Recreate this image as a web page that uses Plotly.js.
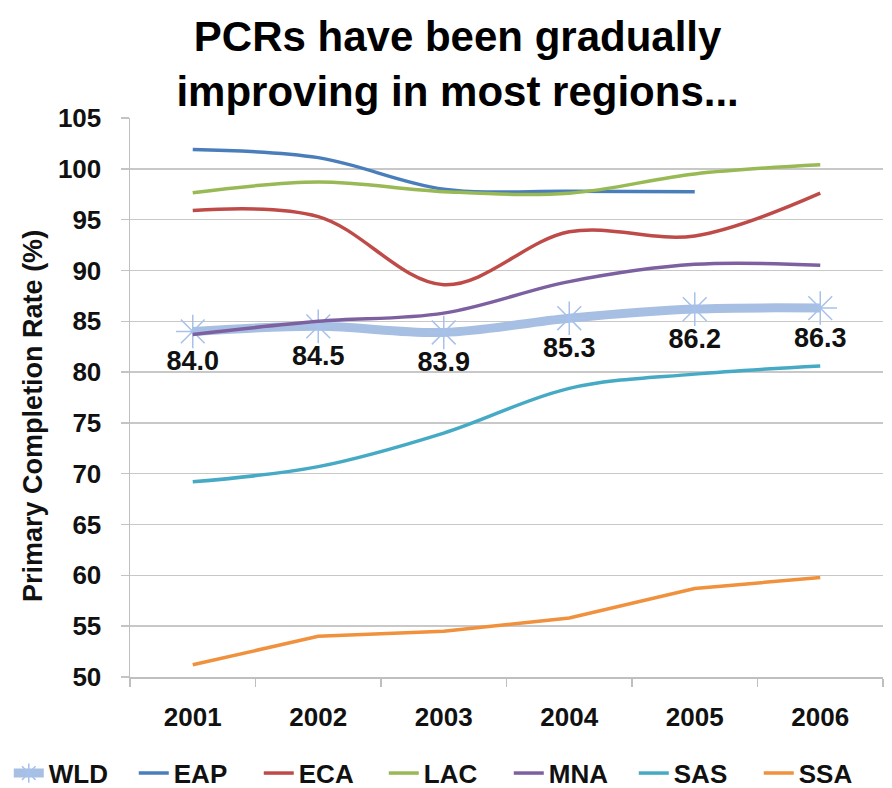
<!DOCTYPE html>
<html>
<head>
<meta charset="utf-8">
<script src="https://cdn.plot.ly/plotly-3.0.1.min.js"></script>
<style>html,body{margin:0;padding:0;background:#fff;}#chart{width:892px;height:788px;}</style>
</head>
<body>
<div id="chart"></div>
<script>
const years = ["2001", "2002", "2003", "2004", "2005", "2006"];
const WLD = [84.0, 84.5, 83.9, 85.3, 86.2, 86.3];
const EAP = [101.9, 101.1, 98.0, 97.8, 97.75, null];
const ECA = [95.9, 95.3, 88.6, 93.8, 93.4, 97.6];
const LAC = [97.65, 98.7, 97.75, 97.6, 99.5, 100.4];
const MNA = [83.7, 85.0, 85.8, 88.9, 90.6, 90.5];
const SAS = [69.2, 70.7, 74.0, 78.4, 79.8, 80.6];
const SSA = [51.2, 54.0, 54.5, 55.8, 58.7, 59.8];
const wldLabels = ["84.0", "84.5", "83.9", "85.3", "86.2", "86.3"];
const yTicks = [50, 55, 60, 65, 70, 75, 80, 85, 90, 95, 100, 105];

const FONT = "Liberation Sans, Arial, Helvetica, sans-serif";

function region(name, vals, color, shape) {
  return {
    type: "scatter", mode: "lines", name: name, x: years, y: vals,
    line: {color: color, width: 3.5, shape: shape || "spline", smoothing: 1},
    hoverinfo: "x+y+name"
  };
}

const traces = [
  {
    type: "scatter", mode: "lines+markers+text", name: "WLD", x: years, y: WLD,
    text: wldLabels, textposition: "bottom center",
    textfont: {family: FONT, size: 27, color: "#111", weight: "bold"},
    line: {color: "#a7bfe3", width: 9, shape: "spline", smoothing: 1},
    marker: {symbol: "asterisk-open", size: 28, color: "#a7c1ea", line: {color: "#a7c1ea", width: 1.5}}
  },
  region("EAP", EAP, "#4a7ebb"),
  region("ECA", ECA, "#be4b48"),
  region("LAC", LAC, "#98b954"),
  region("MNA", MNA, "#7d60a0"),
  region("SAS", SAS, "#46aac5"),
  region("SSA", SSA, "#f0913e", "linear")
];

const layout = {
  width: 892, height: 788,
  paper_bgcolor: "#fff", plot_bgcolor: "#fff",
  margin: {l: 130, r: 9, t: 118, b: 111, autoexpand: false},
  font: {family: FONT, color: "#111"},
  title: {
    text: "<b>PCRs have been gradually<br>improving in most regions...</b>",
    font: {family: FONT, size: 42, color: "#000"},
    xref: "container", x: 0.513, xanchor: "center",
    yref: "container", y: 0.935, yanchor: "middle"
  },
  xaxis: {
    type: "category", categoryorder: "array", categoryarray: years,
    range: [-0.5, 5.5], tickson: "boundaries", ticks: "outside", ticklen: 8,
    tickcolor: "#bfbfbf", tickwidth: 1.5,
    showline: true, linecolor: "#bfbfbf", linewidth: 1.5,
    showgrid: false, zeroline: false,
    ticklabelstandoff: 16,
    tickfont: {family: FONT, size: 26, color: "#111", weight: "bold"}
  },
  yaxis: {
    range: [50, 105], tickvals: yTicks, ticktext: yTicks.map(String),
    ticks: "outside", ticklen: 8, tickcolor: "#c4c4c4", tickwidth: 1.5,
    showline: true, linecolor: "#bfbfbf", linewidth: 1.5,
    showgrid: true, gridcolor: "#c8c8c8", gridwidth: 1.5, zeroline: false,
    ticklabelstandoff: 14,
    tickfont: {family: FONT, size: 26, color: "#111", weight: "bold"}
  },
  annotations: [{
    text: "<b>Primary Completion Rate (%)</b>", textangle: -90, showarrow: false,
    xref: "paper", x: 0, xanchor: "center", xshift: -97,
    yref: "paper", y: 0.467, yanchor: "middle",
    font: {family: FONT, size: 27, color: "#111"}
  }],
  showlegend: true,
  legend: {
    orientation: "h", xref: "paper", yref: "paper",
    x: -0.161, xanchor: "left", y: -0.172, yanchor: "middle",
    font: {family: FONT, size: 26, color: "#111", weight: "bold"},
    traceorder: "normal", itemwidth: 30, entrywidth: 80
  }
};

Plotly.newPlot("chart", traces, layout, {displayModeBar: false, staticPlot: true});
</script>
</body>
</html>
